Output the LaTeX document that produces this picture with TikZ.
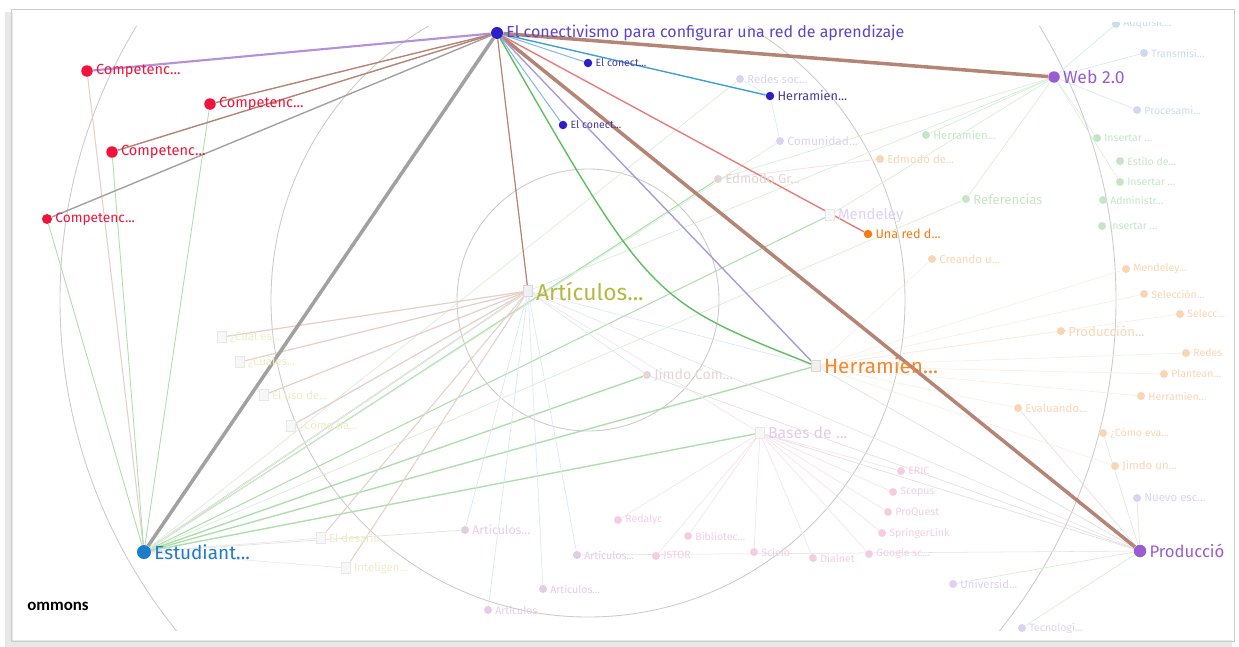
\documentclass[tikz,border=0pt]{standalone}
\usepackage{fontspec}
\setmainfont{Fira Sans}
\newfontfamily\capfont{Carlito}
\usetikzlibrary{backgrounds}

\definecolor{hubblue}{HTML}{2E1EC6}
\definecolor{hubtext}{HTML}{5B46C6}
\definecolor{compred}{HTML}{F0143C}
\definecolor{webpurple}{HTML}{9A5CD0}
\definecolor{estblue}{HTML}{1A7DC8}
\definecolor{herrorange}{HTML}{F08A30}
\definecolor{redorange}{HTML}{F57A10}
\definecolor{artolive}{HTML}{B5B940}
\definecolor{brownedge}{HTML}{B48474}
\definecolor{grayedge}{HTML}{A3A0A0}
\definecolor{purpleedge}{HTML}{B58FD8}
\definecolor{blueedge}{HTML}{3E9FD6}
\definecolor{paleblueedge}{HTML}{86BCE4}
\definecolor{rededge}{HTML}{E87C7C}
\definecolor{greenedge}{HTML}{5FBF5F}
\definecolor{lavedge}{HTML}{A99AD9}
\definecolor{ringgray}{HTML}{CFCACA}
\definecolor{flav}{HTML}{DDD2F2}
\definecolor{flavpink}{HTML}{E6CBE9}
\definecolor{fpink}{HTML}{F5CDE2}
\definecolor{forange}{HTML}{FAD5B3}
\definecolor{fgreen}{HTML}{C4E5C6}
\definecolor{fblue}{HTML}{CADCF0}
\definecolor{fgray}{HTML}{E2D6D6}
\definecolor{fyellow}{HTML}{ECEDC4}
\definecolor{lgreen}{HTML}{AEDEAE}
\definecolor{lgreenb}{HTML}{D6EED6}
\definecolor{lbrown}{HTML}{E6CFCA}
\definecolor{lgray}{HTML}{E4E0E0}
\definecolor{lblue}{HTML}{DCE8F4}
\definecolor{lpink}{HTML}{F6E2EC}
\definecolor{lorange}{HTML}{F9EADE}

\newcommand{\fsz}[1]{\fontsize{#1}{#1}\selectfont}

\begin{document}
\begin{tikzpicture}[x=0.02cm,y=-0.02cm,
  dot/.style={circle,fill=#1,inner sep=0pt,minimum size=2.3mm},
  smalldot/.style={circle,fill=#1,inner sep=0pt,minimum size=1.7mm},
  fdot/.style={circle,fill=#1,inner sep=0pt,minimum size=1.6mm},
  icon/.style={rectangle,draw=gray!30,fill=#1,inner sep=0pt,minimum width=1.9mm,minimum height=2.3mm},
  lab/.style={text=#1,inner sep=1.5pt},
  ring/.style={draw=ringgray,line width=0.5pt},
  faint/.style={draw=#1,line width=0.4pt}
]
\useasboundingbox (0,0) rectangle (1239,646);

% main nodes
\node[dot=hubblue,minimum size=2.4mm,label={[lab=hubtext,font=\fsz{9.1}]right:El conectivismo para configurar una red de aprendizaje}] (hub) at (497,33) {};
\node[dot=compred,label={[lab=compred,font=\fsz{8.3}]right:Competenc...}] (compA) at (87,71) {};
\node[dot=compred,label={[lab=compred,font=\fsz{8.3}]right:Competenc...}] (compB) at (210,104) {};
\node[dot=compred,label={[lab=compred,font=\fsz{8.3}]right:Competenc...}] (compC) at (112,152) {};
\node[dot=compred,minimum size=2mm,label={[lab=compred,font=\fsz{7.8}]right:Competenc...}] (compD) at (47,219) {};
\node[smalldot=hubblue,label={[lab=hubtext!80!black,font=\fsz{6}]right:El conect...}] (conA) at (588,63) {};
\node[smalldot=hubblue,label={[lab=hubtext!80!black,font=\fsz{6}]right:El conect...}] (conB) at (563,125) {};
\node[smalldot=hubblue,label={[lab=hubtext!80!black,font=\fsz{7.2}]right:Herramien...}] (herrT) at (770,96) {};
\node[dot=webpurple,label={[lab=webpurple,font=\fsz{10}]right:Web 2.0}] (web) at (1054,77) {};
\node[smalldot=redorange,label={[lab=redorange,font=\fsz{7.2}]right:Una red d...}] (una) at (868,234) {};
\node[icon=gray!12,label={[lab=artolive,font=\fsz{13}]right:Artículos...}] (arti) at (528,291) {};
\node[icon=gray!12,label={[lab=herrorange,font=\fsz{11.8}]right:Herramien...}] (herrB) at (816,366) {};
\node[dot=estblue,minimum size=2.8mm,label={[lab=estblue,font=\fsz{10.8}]right:Estudiant...}] (est) at (144,552) {};
\node[dot=webpurple,minimum size=2.5mm,label={[lab=webpurple,font=\fsz{9.5}]right:Producció}] (prod) at (1140,551) {};
\node[font=\capfont\bfseries\fsz{9.6},anchor=west,inner sep=0pt] (cc) at (27,606) {ommons};

% faded nodes
\begin{scope}
\clip (10,22) rectangle (1234,632);
\foreach \nm/\px/\py/\col/\fs/\txt in {
  redes/740/79/flav/6.5/{Redes soc...},
  comun/780/141/flav/6.8/{Comunidad...},
  edmodoG/718/179/fgray/7.5/{Edmodo Gr...},
  adq/1116/24/fblue/6/{Adquisic...},
  trans/1144/53/fblue/6/{Transmisi...},
  proc/1137/110/fblue/6/{Procesami...},
  herrG/926/135/fgreen/6.5/{Herramien...},
  edmodoD/880/159/forange/6.5/{Edmodo de...},
  ins1/1097/138/fgreen/6/{Insertar ...},
  estilo/1120/161/fgreen/6/{Estilo de...},
  ins2/1120/182/fgreen/6/{Insertar ...},
  admin/1103/200/fgreen/6/{Administr...},
  ins3/1102/226/fgreen/6/{Insertar ...},
  refs/966/199/fgreen/7.5/{Referencias},
  creando/932/259/forange/6.5/{Creando u...},
  mendB/1126/269/forange/6/{Mendeley...},
  selec/1144/294/forange/6/{Selección...},
  selecc/1180/314/forange/6/{Selecc...},
  produc/1061/331/forange/7.5/{Producción...},
  redesB/1186/353/forange/6/{Redes},
  plant/1164/374/forange/6/{Plantean...},
  herrC/1141/396/forange/6/{Herramien...},
  evalu/1018/408/forange/6.5/{Evaluando...},
  como/1103/433/forange/6/{¿Cómo eva...},
  jimdoU/1115/466/forange/6.5/{Jimdo un...},
  nuevo/1137/498/flav/6.5/{Nuevo esc...},
  eric/901/471/fpink/6/{ERIC},
  scopus/893/492/fpink/6/{Scopus},
  proq/888/512/fpink/6/{ProQuest},
  spring/882/533/fpink/6/{SpringerLink},
  gsc/869/554/fpink/6/{Google sc...},
  dial/813/558/fpink/6/{Dialnet},
  sciel/754/552/fpink/6/{Scielo},
  bibl/688/536/fpink/6/{Bibliotec...},
  redal/618/520/fpink/6/{Redalyc},
  jstor/656/556/fpink/6/{JSTOR},
  artA/465/530/flavpink/7/{Artículos...},
  artB/577/555/flavpink/6/{Artículos...},
  artC/543/589/flavpink/6/{Artículos...},
  artD/488/610/flavpink/6/{Artículos},
  univ/953/584/flav/6.5/{Universid...},
  tecno/1022/628/flav/6/{Tecnologí...},
  jimdo/647/375/fgray/8/{Jimdo Com...}}
  \node[fdot=\col,label={[lab=\col,font=\fsz{\fs}]right:\txt}] (\nm) at (\px,\py) {};
\foreach \nm/\px/\py/\col/\fs/\txt in {
  mendA/830/215/flav/8.5/{Mendeley},
  bases/760/433/flavpink/9/{Bases de ...},
  cualA/222/337/fyellow/6.5/{¿Cuál es...},
  cualB/240/362/fyellow/6.5/{¿Cuáles...},
  uso/264/395/fyellow/6.5/{El uso de...},
  comoha/291/426/fyellow/6.5/{¿Cómo ha...},
  desaf/321/538/fyellow/6.5/{El desafío...},
  intel/346/568/fyellow/6.5/{Inteligen...}}
  \node[icon=gray!6,draw=gray!18,label={[lab=\col,font=\fsz{\fs}]right:\txt}] (\nm) at (\px,\py) {};
\end{scope}

\begin{pgfonlayer}{background}
% frame of the screenshot
\draw[gray!18,line width=4pt] (9,12) -- (9,643) -- (1232,643);
\draw[gray!40,line width=0.5pt] (11,9) rectangle (1234,641);
\begin{scope}
\clip (11,26) rectangle (1234,630);
\draw[ring] (588,300) circle[radius=131];
\draw[ring] (588,300) circle[radius=317];
\draw[ring] (588,300) circle[radius=528];
% faint edges
\foreach \a/\b/\c/\w in {
  est/arti/lgreen/0.8, est/herrB/lgreen/0.8, est/jimdo/lgreen/0.8, est/bases/lgreen/0.8,
  est/edmodoG/lgreen/0.6, est/mendA/lgreen/0.6, est/comun/lgreenb/0.4, est/refs/lgreenb/0.4,
  est/redes/lgreenb/0.4, est/desaf/lpink/0.4, est/intel/lpink/0.4, est/artA/lgray/0.4,
  compA/est/lbrown/0.6, compB/est/lgreen/0.5, compC/est/lgreen/0.5, compD/est/lgreen/0.5,
  arti/cualA/lbrown/0.7, arti/cualB/lbrown/0.7, arti/uso/lbrown/0.7, arti/comoha/lbrown/0.7,
  arti/desaf/lbrown/0.6, arti/intel/lbrown/0.6, arti/est/lpink/0.5,
  arti/artA/lblue/0.4, arti/artB/lblue/0.4, arti/artC/lblue/0.4, arti/artD/lblue/0.4,
  arti/jimdo/lblue/0.4, arti/herrB/lblue/0.4, arti/bases/lpink/0.4,
  web/adq/lblue/0.4, web/trans/lblue/0.4, web/proc/lblue/0.4,
  web/refs/lgreenb/0.4, web/herrG/lgreenb/0.4, web/mendA/lgreenb/0.4, web/edmodoG/lgreenb/0.4,
  web/arti/lgreenb/0.4, web/ins1/lgreenb/0.3, web/ins2/lgreenb/0.3,
  prod/herrB/lgray/0.4, prod/bases/lgray/0.4, prod/jimdo/lgray/0.4, prod/evalu/lgray/0.4,
  prod/arti/lgray/0.3, prod/artB/lgray/0.3, prod/como/lgray/0.3,
  prod/univ/lgreenb/0.4, prod/tecno/lgreenb/0.4, prod/nuevo/lgreenb/0.4,
  bases/eric/lpink/0.4, bases/scopus/lpink/0.4, bases/proq/lpink/0.4, bases/spring/lpink/0.4,
  bases/gsc/lpink/0.4, bases/dial/lpink/0.4, bases/sciel/lpink/0.4, bases/bibl/lpink/0.4,
  bases/redal/lpink/0.4, bases/jstor/lpink/0.4,
  herrB/creando/lorange/0.3, herrB/mendB/lorange/0.3, herrB/selec/lorange/0.3,
  herrB/selecc/lorange/0.3, herrB/produc/lorange/0.3, herrB/redesB/lorange/0.3,
  herrB/plant/lorange/0.3, herrB/herrC/lorange/0.3, herrB/evalu/lorange/0.3,
  herrB/jimdoU/lorange/0.3, edmodoG/edmodoD/lpink/0.5,
  herrT/redes/lgreenb/0.3, herrT/comun/lgreenb/0.3}
  \draw[faint=\c,line width=\w pt] (\a) -- (\b);
\end{scope}
% strong edges from the hub
\draw[brownedge,line width=2pt] (hub) -- (web);
\draw[brownedge,line width=2pt] (hub) -- (prod);
\draw[grayedge,line width=2pt] (hub) -- (est);
\draw[purpleedge,line width=1.2pt] (hub) -- (compA);
\draw[brownedge,line width=0.8pt] (hub) -- (compB);
\draw[brownedge,line width=0.8pt] (hub) -- (compC);
\draw[grayedge,line width=0.8pt] (hub) -- (compD);
\draw[brownedge,line width=0.7pt] (hub) -- (arti);
\draw[blueedge,line width=0.8pt] (hub) -- (herrT);
\draw[paleblueedge,line width=0.6pt] (hub) -- (conA);
\draw[paleblueedge,line width=0.6pt] (hub) -- (conB);
\draw[rededge,line width=0.8pt] (hub) -- (una);
\draw[greenedge,line width=0.8pt] (hub) .. controls (650,300) .. (herrB);
\draw[lavedge,line width=0.8pt] (hub) -- (herrB);
\end{pgfonlayer}
\end{tikzpicture}
\end{document}
